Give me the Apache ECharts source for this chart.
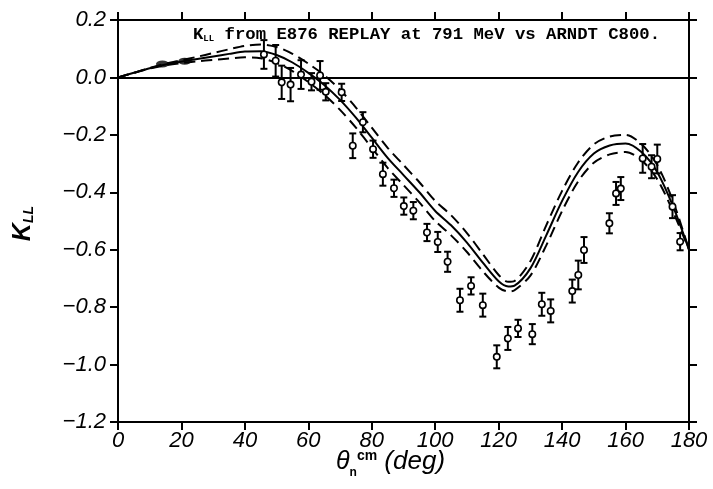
<!DOCTYPE html>
<html>
<head>
<meta charset="utf-8">
<script src="https://cdn.jsdelivr.net/npm/echarts@6/dist/echarts.min.js"></script>
<style>html,body{margin:0;padding:0;background:#fff}#c{width:713px;height:489px}</style>
</head>
<body>
<div id="c"></div>
<script>
// ---- data ----
const curveX = [0,5,10,15,20,25,30,35,40,45,50,55,60,65,70,75,80,85,90,95,100,105,110,115,120,123,125,130,135,140,145,150,155,160,165,170,175,180];
const arndt = [0,0.016,0.032,0.045,0.055,0.064,0.073,0.082,0.09,0.091,0.078,0.052,0.016,-0.026,-0.078,-0.14,-0.21,-0.28,-0.34,-0.40,-0.465,-0.515,-0.575,-0.645,-0.71,-0.728,-0.725,-0.665,-0.55,-0.43,-0.33,-0.265,-0.237,-0.23,-0.26,-0.33,-0.45,-0.6];
const arndtUpper = [0,0.016,0.033,0.048,0.06,0.072,0.085,0.098,0.11,0.115,0.106,0.082,0.048,0.008,-0.043,-0.105,-0.175,-0.245,-0.305,-0.365,-0.43,-0.48,-0.542,-0.615,-0.688,-0.712,-0.709,-0.64,-0.515,-0.395,-0.297,-0.233,-0.206,-0.2,-0.232,-0.305,-0.432,-0.6];
const arndtLower = [0,0.016,0.031,0.042,0.05,0.056,0.061,0.066,0.07,0.067,0.05,0.022,-0.016,-0.06,-0.113,-0.175,-0.245,-0.315,-0.375,-0.435,-0.5,-0.55,-0.608,-0.675,-0.732,-0.745,-0.741,-0.69,-0.585,-0.465,-0.363,-0.297,-0.268,-0.26,-0.288,-0.355,-0.468,-0.6];

const dataAngle = [46,49.7,51.6,54.4,57.7,61,63.7,65.5,70.5,74,77.2,80.4,83.5,87,90.1,93.1,97.4,100.8,103.9,107.8,111.3,115,119.4,122.9,126.1,130.6,133.6,136.4,143.2,145.1,146.9,154.9,157,158.5,165.4,168.2,170,174.8,177.2];
const dataKLL = [0.08,0.058,-0.017,-0.025,0.01,-0.015,0.007,-0.05,-0.052,-0.238,-0.156,-0.25,-0.337,-0.386,-0.448,-0.464,-0.54,-0.573,-0.642,-0.776,-0.726,-0.793,-0.973,-0.909,-0.874,-0.894,-0.79,-0.813,-0.744,-0.688,-0.601,-0.508,-0.404,-0.387,-0.282,-0.311,-0.284,-0.45,-0.572];
const dataErr = [0.05,0.055,0.058,0.058,0.05,0.03,0.05,0.03,0.03,0.043,0.035,0.03,0.04,0.03,0.03,0.03,0.03,0.035,0.035,0.04,0.03,0.04,0.04,0.04,0.03,0.035,0.04,0.04,0.04,0.05,0.045,0.035,0.04,0.04,0.05,0.04,0.05,0.04,0.03];

const smallAngle = [14,21];
const smallKLL = [0.047,0.056];

const xTicks = [0,20,40,60,80,100,120,140,160,180];
const yTicks = [0.2,0.0,-0.2,-0.4,-0.6,-0.8,-1.0,-1.2];

// ---- chart ----
const chart = echarts.init(document.getElementById('c'));
const pairs = (xs, ys) => xs.map((x, i) => [x, ys[i]]);
const pts = dataAngle.map((x, i) => [x, dataKLL[i], dataErr[i]]);
const fmtY = v => {
  const s = Math.abs(v).toFixed(1);
  return (v < -1e-9 ? '\u2212' : '') + s;
};
const labelFont = {fontFamily: 'Liberation Sans', fontStyle: 'italic', fontSize: 22, color: '#000'};

chart.setOption({
  animation: false,
  backgroundColor: '#fff',
  grid: {left: 118, right: 24, top: 20, bottom: 67},
  title: {
    text: '{k|K}{s|LL}{t| from E876 REPLAY at 791 MeV vs ARNDT C800.}',
    left: 188, top: 21,
    textStyle: {
      rich: {
        k: {fontFamily: 'Liberation Mono', fontWeight: 'bold', fontSize: 17.3, color: '#000'},
        s: {fontFamily: 'Liberation Mono', fontWeight: 'bold', fontSize: 9, color: '#000', verticalAlign: 'bottom', padding: [7, 0, 0, 0]},
        t: {fontFamily: 'Liberation Mono', fontWeight: 'bold', fontSize: 17.3, color: '#000'}
      }
    }
  },
  xAxis: [{
    type: 'value', min: 0, max: 180, interval: 20, position: 'bottom',
    axisLine: {show: true, onZero: false, lineStyle: {color: '#000', width: 2}},
    axisTick: {show: true, inside: false, length: 8, lineStyle: {color: '#000', width: 2}},
    axisLabel: Object.assign({margin: 8, formatter: v => xTicks.includes(v) ? String(v) : ''}, labelFont),
    splitLine: {show: false}
  }, {
    type: 'value', min: 0, max: 180, interval: 20, position: 'top',
    axisLine: {show: true, onZero: false, lineStyle: {color: '#000', width: 2}},
    axisTick: {show: true, inside: false, length: 8, lineStyle: {color: '#000', width: 2}},
    axisLabel: {show: false}, splitLine: {show: false}
  }],
  yAxis: [{
    type: 'value', min: -1.2, max: 0.2, interval: 0.2, position: 'left',
    axisLine: {show: true, onZero: false, lineStyle: {color: '#000', width: 2}},
    axisTick: {show: true, inside: false, length: 8, lineStyle: {color: '#000', width: 2}},
    axisLabel: Object.assign({margin: 12, formatter: v => fmtY(v)}, labelFont),
    splitLine: {show: false}
  }, {
    type: 'value', min: -1.2, max: 0.2, interval: 0.2, position: 'right',
    axisLine: {show: true, onZero: false, lineStyle: {color: '#000', width: 2}},
    axisTick: {show: true, inside: false, length: 8, lineStyle: {color: '#000', width: 2}},
    axisLabel: {show: false}, splitLine: {show: false}
  }],
  graphic: [{
    type: 'text', left: 11, top: 206, rotation: Math.PI / 2,
    style: {
      text: '{k|K}{s|LL}',
      rich: {
        k: {fontFamily: 'Liberation Sans', fontStyle: 'italic', fontWeight: 'bold', fontSize: 25, fill: '#000'},
        s: {fontFamily: 'Liberation Sans', fontStyle: 'italic', fontWeight: 'bold', fontSize: 14, fill: '#000', verticalAlign: 'bottom', padding: [10, 0, 0, 0]}
      }
    }
  }, {
    type: 'text', left: 336, top: 449,
    style: {
      text: '{th|\u03b8}{n|n}{cm|cm}{d| (deg)}',
      rich: {
        th: {fontFamily: 'Liberation Sans', fontStyle: 'italic', fontSize: 25, fill: '#000'},
        n: {fontFamily: 'Liberation Sans', fontWeight: 'bold', fontSize: 12, fill: '#000', padding: [22, 0, 0, 0]},
        cm: {fontFamily: 'Liberation Sans', fontWeight: 'bold', fontSize: 14, fill: '#000', padding: [0, 0, 12, 0]},
        d: {fontFamily: 'Liberation Sans', fontStyle: 'italic', fontSize: 26, fill: '#000'}
      }
    }
  }],
  series: [{
    type: 'line', data: pairs(curveX, arndt), symbol: 'none', smooth: 0.3,
    lineStyle: {color: '#000', width: 2}, z: 3,
    markLine: {
      silent: true, symbol: 'none', label: {show: false},
      lineStyle: {color: '#000', width: 2, type: 'solid'},
      data: [{yAxis: 0}]
    }
  }, {
    type: 'line', data: pairs(curveX, arndtUpper), symbol: 'none', smooth: 0.3,
    lineStyle: {color: '#000', width: 2, type: [11, 6]}, z: 3
  }, {
    type: 'line', data: pairs(curveX, arndtLower), symbol: 'none', smooth: 0.3,
    lineStyle: {color: '#000', width: 2, type: [11, 6]}, z: 3
  }, {
    type: 'scatter', data: pairs(smallAngle, smallKLL), symbol: 'circle', symbolSize: [13, 7],
    itemStyle: {color: '#000'}, z: 4
  }, {
    type: 'custom', data: pts, z: 5,
    renderItem: function (params, api) {
      const x = api.value(0), y = api.value(1), e = api.value(2);
      const c = api.coord([x, y]);
      const t = api.coord([x, y + e]);
      const b = api.coord([x, y - e]);
      const cap = 3.5;
      const st = {stroke: '#000', lineWidth: 2};
      return {
        type: 'group',
        children: [
          {type: 'line', shape: {x1: c[0], y1: t[1], x2: c[0], y2: b[1]}, style: st},
          {type: 'line', shape: {x1: c[0] - cap, y1: t[1], x2: c[0] + cap, y2: t[1]}, style: st},
          {type: 'line', shape: {x1: c[0] - cap, y1: b[1], x2: c[0] + cap, y2: b[1]}, style: st},
          {type: 'circle', shape: {cx: c[0], cy: c[1], r: 3.2}, style: {fill: '#fff', stroke: '#000', lineWidth: 1.6}}
        ]
      };
    }
  }]
});
</script>
</body>
</html>
